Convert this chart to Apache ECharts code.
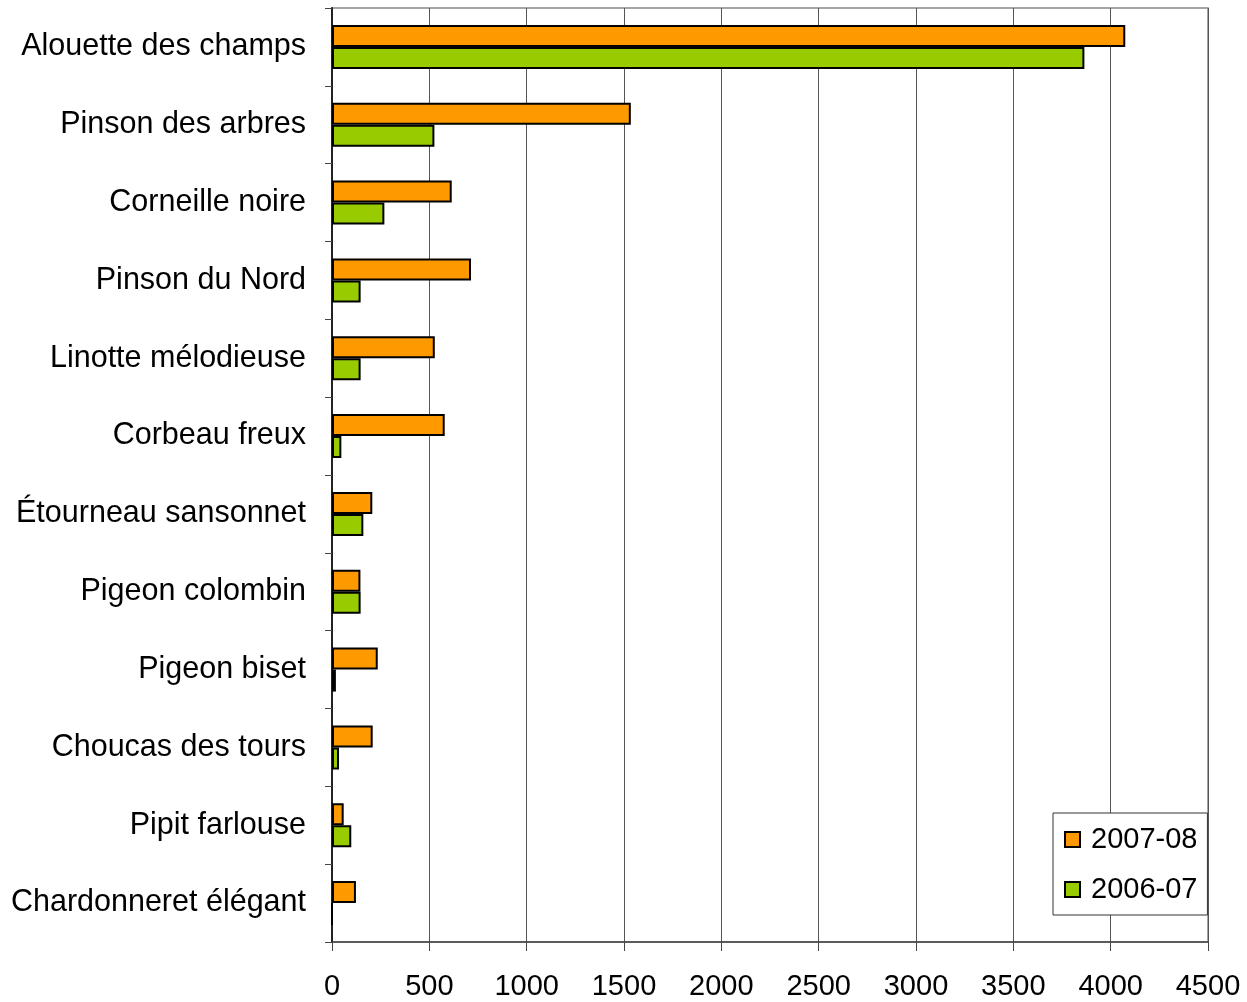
<!DOCTYPE html>
<html>
<head>
<meta charset="utf-8">
<script src="https://cdn.jsdelivr.net/npm/echarts@6/dist/echarts.min.js"></script>
<style>
    html, body { margin: 0; padding: 0; background: #fff; }
    #chart { width: 1247px; height: 1002px; }
</style>
</head>
<body>
<div id="chart"></div>
<script>
    const categories = [
        "Alouette des champs", "Pinson des arbres", "Corneille noire", "Pinson du Nord",
        "Linotte mélodieuse", "Corbeau freux", "Étourneau sansonnet", "Pigeon colombin",
        "Pigeon biset", "Choucas des tours", "Pipit farlouse", "Chardonneret élégant"
    ];
    const values2007 = [4075, 1535, 615, 714, 528, 579, 207, 146, 235, 209, 60, 123];
    const values2006 = [3865, 526, 269, 147, 147, 48, 161, 147, 20, 36, 99, 0];
    const seriesNames = ["2007-08", "2006-07"];

    const font = "Liberation Sans, Arial, sans-serif";
    const myChart = echarts.init(document.getElementById("chart"));

    const barStyle = (color) => ({
        color: color,
        borderColor: "#000",
        borderWidth: 2
    });

    myChart.setOption({
        animation: false,
        grid: { left: 332, right: 39, top: 8, bottom: 60, show: true, borderColor: "#888", borderWidth: 1.5 },
        legend: {
            orient: "vertical",
            left: 1053,
            top: 813,
            padding: [12, 10, 11, 11],
            itemGap: 21,
            itemWidth: 15,
            itemHeight: 15,
            icon: "rect",
            backgroundColor: "#fff",
            borderColor: "#333",
            borderWidth: 1,
            textStyle: { fontFamily: font, fontSize: 29, color: "#000", padding: [0, 0, 0, 6] },
            data: seriesNames
        },
        xAxis: {
            type: "value",
            min: 0,
            max: 4500,
            interval: 500,
            axisLine: { show: true, lineStyle: { color: "#444", width: 1.5 } },
            axisTick: { show: true, length: 9, lineStyle: { color: "#444" } },
            splitLine: { show: true, lineStyle: { color: "#555", width: 1 } },
            axisLabel: { fontFamily: font, fontSize: 29, color: "#000", margin: 30, formatter: (v) => String(v) }
        },
        yAxis: {
            type: "category",
            inverse: true,
            data: categories,
            axisLine: { show: true, lineStyle: { color: "#222", width: 2 } },
            axisTick: { show: true, length: 7, lineStyle: { color: "#444" } },
            axisLabel: { fontFamily: font, fontSize: 30.5, color: "#000", margin: 26 }
        },
        series: [
            {
                name: seriesNames[0],
                type: "bar",
                data: values2007,
                barWidth: 22,
                barGap: "0%",
                itemStyle: barStyle("#FF9900")
            },
            {
                name: seriesNames[1],
                type: "bar",
                data: values2006,
                barWidth: 22,
                barGap: "0%",
                itemStyle: barStyle("#99CC00")
            }
        ]
    });
</script>
</body>
</html>
